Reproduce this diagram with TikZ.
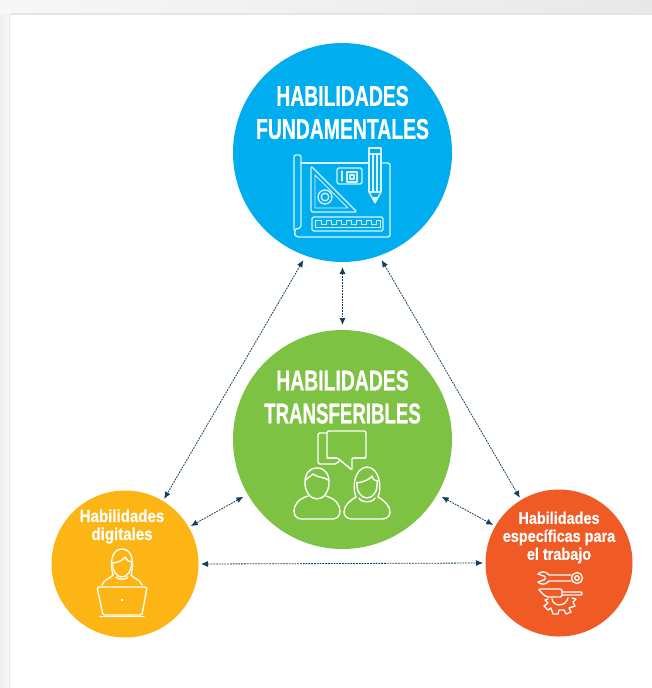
\documentclass[tikz,border=0pt]{standalone}
\usepackage{fontspec}
\setmainfont{Liberation Sans}
\newfontfamily\condf[FakeStretch=0.68,FakeBold=0.6]{Liberation Sans Bold}
\newfontfamily\condh[FakeStretch=0.655,FakeBold=0.6]{Liberation Sans Bold}
\newfontfamily\condg[FakeStretch=0.86,FakeBold=0.5]{Liberation Sans Bold}
\usetikzlibrary{arrows.meta}
\definecolor{cblue}{HTML}{00AEEF}
\definecolor{cgreen}{HTML}{7DC242}
\definecolor{cyellow}{HTML}{FDB515}
\definecolor{corange}{HTML}{F05A25}
\definecolor{clink}{HTML}{123F5C}
\definecolor{cpale}{HTML}{D9F3FD}
\tikzset{
  bigc/.style={circle,minimum size=219pt,inner sep=0pt,outer sep=5pt},
  smallc/.style={circle,minimum size=147pt,inner sep=0pt,outer sep=2.5pt},
  link/.style={draw=clink,line width=.8pt,dash pattern=on 1.8pt off 1pt,{Latex[length=7pt,width=6pt]}-{Latex[length=7pt,width=6pt]}},
  bigt/.style={text=white,align=center,inner sep=0pt,font=\condf\fontsize{28.5}{33}\selectfont},
  smallt/.style={text=white,align=center,inner sep=0pt,font=\condg\fontsize{17.5}{18}\selectfont},
  ico/.style={draw=white,line width=1.4pt,line join=round,line cap=round,rounded corners=1pt},
  icoblue/.style={draw=cpale,line width=1.3pt,line join=round,line cap=round},
}
\begin{document}
\begin{tikzpicture}[x=1pt,y=-1pt]
\useasboundingbox (0,0) rectangle (652,688);
% page backdrop
\fill[white] (0,0) rectangle (652,688);
\fill[left color=black!7,right color=black!2] (0,0) rectangle (10,688);
\fill[left color=black!3,right color=black!9,shading angle=90] (0,0) rectangle (652,14);
\fill[black!10] (10,13) rectangle (652,14.5);
\fill[black!8] (9,14) rectangle (10,688);
% circles
\node[bigc,fill=cblue] (top) at (342.5,152.5) {};
\node[bigc,fill=cgreen] (mid) at (342.5,439.5) {};
\node[smallc,fill=cyellow] (dig) at (125,564) {};
\node[smallc,fill=corange] (job) at (559,563) {};
% links
\draw[link] (top.250) -- (dig.59);
\draw[link] (top.270) -- (mid.90);
\draw[link] (top.290) -- (job.121);
\draw[link] (mid.210) -- (dig.30);
\draw[link] (mid.330) -- (job.150);
\draw[link] (dig.0) -- (job.180);
% labels
\node[bigt] (t1) at (342.5,112.5) {HABILIDADES\\FUNDAMENTALES};
\node[bigt] (t2) at (342.5,397) {HABILIDADES\\{\condh TRANSFERIBLES}};
\node[smallt] (t3) at (122,526.5) {Habilidades\\digitales};
\node[smallt,font=\condg\fontsize{16.8}{18}\selectfont] (t4) at (559,537.5) {Habilidades\\específicas para\\el trabajo};
% blueprint icon
\begin{scope}[icoblue]
\draw[rounded corners=2pt] (294,230) -- (294,155) -- (301,155) -- (301,228) -- (296,229);
\draw[rounded corners=2pt] (301,163) -- (368,163);
\draw[rounded corners=2pt] (382,163) -- (390,163) -- (390,237) -- (296,237) -- (294,233) -- (296,229);
\draw[rounded corners=2pt] (311,166) -- (311,212) -- (357,212) -- cycle;
\draw[line width=.9pt] (315,175) -- (315,208) -- (348,208) -- cycle;
\draw (325,197) circle (7);
\draw (325,197) circle (3.8);
\draw[rounded corners=1.5pt] (337,168) rectangle (362,184);
\draw (342,171) -- (342,181);
\draw (347,172) rectangle (357,182);
\draw (350,175) rectangle (354,179);
\draw[rounded corners=1.5pt] (312,217) rectangle (383,231);
\draw[line width=.9pt] (315,227.5) -- (380,227.5) -- (380,220) -- (376,220) -- (376,224) -- (371,224) -- (371,220) -- (366,220) -- (366,224) -- (361,224) -- (361,220) -- (356,220) -- (356,224) -- (351,224) -- (351,220) -- (346,220) -- (346,224) -- (341,224) -- (341,220) -- (336,220) -- (336,224) -- (331,224) -- (331,220) -- (326,220) -- (326,224) -- (321,224) -- (321,220) -- (315,220) -- cycle;
\draw (369,148) rectangle (381,192);
\draw (369,154) -- (381,154);
\draw (373,154) -- (373,192);
\draw (377,154) -- (377,192);
\draw (369,192) -- (375,203) -- (381,192);
\end{scope}
\fill[cpale] (372,197) -- (375,203) -- (378,197) -- cycle;
% people icon
\begin{scope}[ico]
\draw[rounded corners=2pt] (327,431) rectangle (366,458);
\fill[cgreen] (336,456) rectangle (353,460);
\draw (337,458) -- (327,458);
\draw (366,458) -- (352,458) -- (352,470) -- (338,458.5);
\draw[rounded corners=2pt] (327,433) -- (318,433) -- (318,464) -- (337,464) -- (339,461);
% man
\draw[rounded corners=0pt] (317,468) .. controls (308,468) and (305,475) .. (305,483) .. controls (305,491) and (310,499) .. (317,499) .. controls (324,499) and (329,491) .. (329,483) .. controls (329,475) and (326,468) .. (317,468) -- cycle;
\draw[rounded corners=0pt] (306,480) .. controls (309,476) and (312,476) .. (313,474) .. controls (318,478) and (325,477) .. (328,480);
\draw[rounded corners=0pt] (308,496) .. controls (298,499) and (294,505) .. (294,511) .. controls (294,516) and (297,519) .. (302,519) -- (332,519) .. controls (337,519) and (340,516) .. (340,511) .. controls (340,505) and (336,499) .. (326,496);
% woman
\draw[rounded corners=0pt] (356,497) .. controls (352,488) and (354,468) .. (367,467) .. controls (380,468) and (382,488) .. (378,497);
\draw[rounded corners=0pt] (357,482) .. controls (356,491) and (361,498) .. (367,498) .. controls (373,498) and (378,491) .. (377,482);
\draw[rounded corners=0pt] (357,483) .. controls (364,482) and (370,479) .. (372,476) .. controls (373,480) and (375,481) .. (378,481);
\draw[rounded corners=0pt] (356,497) .. controls (349,501) and (344,506) .. (344,512) .. controls (344,516) and (347,519) .. (352,519) -- (382,519) .. controls (387,519) and (390,516) .. (390,512) .. controls (390,506) and (385,501) .. (378,497);
\draw[rounded corners=0pt] (359,498) .. controls (361,503) and (373,503) .. (375,498);
\end{scope}
% laptop icon
\begin{scope}[ico,line width=1.3pt]
\draw[rounded corners=0pt] (102,585) .. controls (104,579) and (110,579) .. (113,575) .. controls (109,560) and (113,549) .. (122,549) .. controls (131,549) and (135,560) .. (131,575) .. controls (134,579) and (140,579) .. (142,585);
\draw[rounded corners=0pt] (112,562) .. controls (113,572) and (117,577) .. (122,577) .. controls (127,577) and (131,572) .. (132,562);
\draw[rounded corners=0pt] (112,563) .. controls (118,563) and (123,560) .. (125,557) .. controls (126,560) and (129,562) .. (132,562);
\draw[rounded corners=0pt] (116,577) .. controls (118,580) and (126,580) .. (128,577);
\draw[rounded corners=1.5pt] (97,587) -- (147,587) -- (142,615) -- (103,615) -- cycle;
\draw (100,616.5) -- (144,616.5);
\fill[white] (122,600) circle (1.3);
\end{scope}
% tools icon
\begin{scope}[ico,line width=1.3pt]
\draw[rounded corners=0pt] (538,574) .. controls (541,571) and (546,571) .. (549,575) -- (571,575);
\draw[rounded corners=0pt] (538,582) .. controls (541,585) and (546,585) .. (549,581) -- (571,581);
\draw[rounded corners=0pt] (538,574) -- (545,576.5) -- (545,579.5) -- (538,582);
\draw (577,578) circle (5.5);
\draw (577,578) circle (2.3);
\draw[rounded corners=2pt] (538,589) -- (562,589) -- (562,597) -- (546,597) -- cycle;
\draw (562,592) -- (582,592) -- (582,595) -- (562,595);
\draw[rounded corners=0pt] (548,599) -- (545,600) -- (548,603) -- (544,606) -- (548,610) -- (551,608) -- (553,614) -- (558,614) -- (559,610) -- (564,610) -- (566,614) -- (571,612) -- (569,608) -- (575,606) -- (573,602) -- (576,599) -- (572,598);
\draw[rounded corners=0pt] (552,599) .. controls (553,607) and (566,607) .. (568,598);
\end{scope}
\end{tikzpicture}
\end{document}
